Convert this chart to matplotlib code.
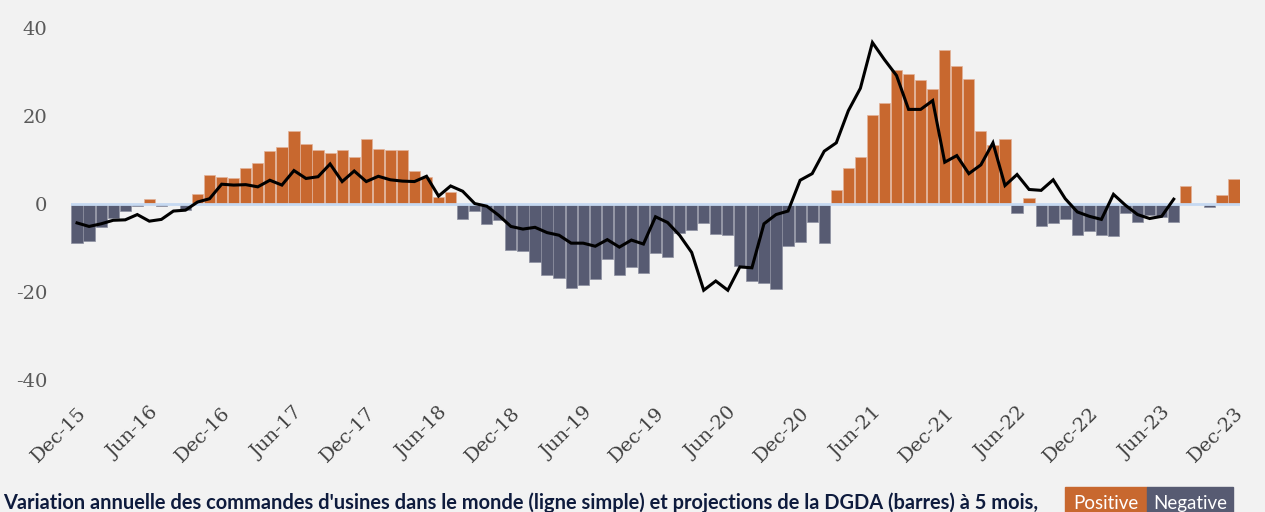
import matplotlib
matplotlib.use("Agg")
import matplotlib.pyplot as plt
import numpy as np

# ---- data ----
bar_values = [
    -8.9, -8.5, -5.3, -3.2, -1.6, -0.5, 1.1, -0.5, 0.0, -1.3,
    2.2, 6.7, 6.2, 6.0, 8.2, 9.3, 12.0, 12.9, 16.7, 13.6,
    12.3, 11.5, 12.2, 10.7, 14.8, 12.5, 12.3, 12.3, 7.4, 6.1,
    1.5, 2.7, -3.4, -1.5, -4.5, -3.6, -10.5, -10.7, -13.2, -16.2,
    -16.9, -19.1, -18.4, -17.1, -12.5, -16.2, -14.4, -15.7, -11.2, -12.1,
    -6.6, -6.0, -4.4, -6.9, -7.1, -14.2, -17.4, -18.0, -19.4, -9.6,
    -8.7, -4.1, -8.9, 3.1, 8.2, 10.6, 20.2, 23.0, 30.5, 29.5,
    28.1, 26.1, 34.9, 31.3, 28.5, 16.5, 13.5, 14.8, -2.0, 1.3,
    -5.1, -4.4, -3.5, -7.0, -6.1, -7.0, -7.3, -2.0, -4.1, -2.6,
    -3.0, -4.1, 4.0, 0.0, -0.6, 2.0, 5.6,
]
line_values = [
    -4.3, -5.1, -4.5, -3.7, -3.6, -2.4, -3.9, -3.5, -1.6, -1.4,
    0.45, 1.2, 4.5, 4.3, 4.4, 3.9, 5.4, 4.3, 7.6, 5.8,
    6.2, 9.1, 5.1, 7.5, 5.1, 6.3, 5.5, 5.2, 5.1, 6.3,
    1.8, 4.1, 2.9, 0.1, -0.5, -2.6, -5.1, -5.7, -5.3, -6.5,
    -7.1, -8.9, -8.9, -9.6, -8.1, -9.8, -8.2, -9.1, -2.9, -4.2,
    -7.1, -11.0, -19.6, -17.5, -19.6, -14.3, -14.5, -4.5, -2.4, -1.6,
    5.4, 6.9, 12.0, 13.9, 21.2, 26.3, 36.7, 32.8, 29.2, 21.5,
    21.5, 23.5, 9.5, 11.0, 6.9, 8.9, 13.9, 4.2, 6.7, 3.3,
    3.1, 5.5, 1.2, -1.8, -2.8, -3.5, 2.2, -0.3, -2.4, -3.3,
    -2.8, 1.1,
]
tick_labels = ["Dec-15", "Jun-16", "Dec-16", "Jun-17", "Dec-17", "Jun-18",
               "Dec-18", "Jun-19", "Dec-19", "Jun-20", "Dec-20", "Jun-21",
               "Dec-21", "Jun-22", "Dec-22", "Jun-23", "Dec-23"]
y_ticks = [-40, -20, 0, 20, 40]
title = ("Variation annuelle des commandes d'usines dans le monde (ligne simple) "
         "et projections de la DGDA (barres) à 5 mois,")

# ---- style ----
BG = "#f2f2f2"
POS = "#c8682f"
NEG = "#575b72"
POS_EDGE = "#e2b29a"
NEG_EDGE = "#8d90a0"

W, H = 1265, 512
fig = plt.figure(figsize=(W / 100, H / 100), dpi=100, facecolor=BG)
ax = fig.add_axes([71 / W, 1 - 380 / H, 1169 / W, 352 / H], facecolor=BG)

x = np.arange(len(bar_values))
vals = np.array(bar_values)
colors = [POS if v > 0 else NEG for v in vals]
edges = [POS_EDGE if v > 0 else NEG_EDGE for v in vals]
ax.bar(x, vals, width=0.93, color=colors, edgecolor=edges, linewidth=0.5, zorder=2)
ax.axhline(0, color="#c6d9f1", lw=2.0, zorder=3)
ax.plot(np.arange(len(line_values)), line_values, color="black", lw=2.2,
        solid_joinstyle="miter", zorder=4)

ax.set_xlim(-0.5, len(bar_values) - 0.5)
ax.set_ylim(-40, 40)
ax.set_yticks(y_ticks)
ax.set_yticklabels([str(t) for t in y_ticks], fontsize=14, color="#595959",
                   family="DejaVu Serif")
ax.set_xticks(np.arange(0, len(bar_values), 6))
ax.set_xticklabels(tick_labels, rotation=45, ha="right", va="top",
                   rotation_mode="anchor", fontsize=14, color="#404040",
                   family="DejaVu Serif")
ax.tick_params(axis="y", length=0, pad=17)
ax.tick_params(axis="x", length=0, pad=17)
for s in ax.spines.values():
    s.set_visible(False)

# title at bottom
fig.text(3 / W, 1 - 509 / H, title, fontsize=14.4, fontweight="bold",
         color="#0e1b3d", family="Lato", ha="left", va="baseline")

# legend boxes
fig.patches.append(matplotlib.patches.Rectangle((1065 / W, 0), 82 / W, 25 / H,
                   transform=fig.transFigure, color=POS, zorder=1))
fig.patches.append(matplotlib.patches.Rectangle((1147 / W, 0), 86 / W, 25 / H,
                   transform=fig.transFigure, color=NEG, zorder=1))
fig.text(1106 / W, 1 - 509 / H, "Positive", fontsize=13.5, color="white",
         family="Lato", ha="center", va="baseline")
fig.text(1190 / W, 1 - 509 / H, "Negative", fontsize=13.5, color="white",
         family="Lato", ha="center", va="baseline")

fig.savefig("out.png", dpi=100, facecolor=BG)
